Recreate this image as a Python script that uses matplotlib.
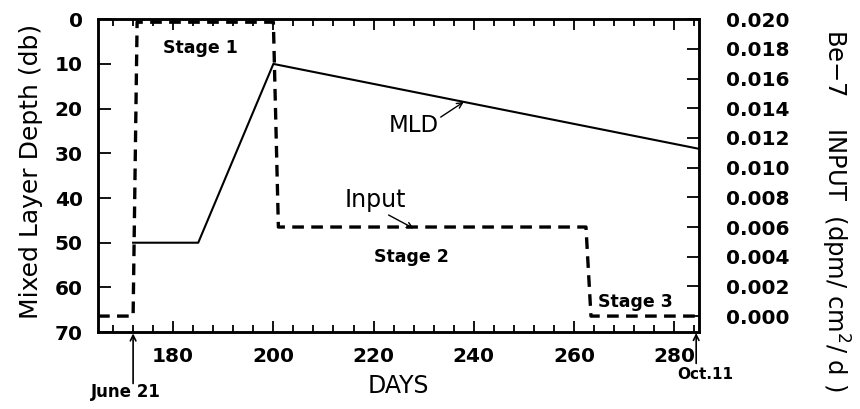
import matplotlib
matplotlib.use('Agg')
import matplotlib.pyplot as plt

# mixed layer depth (db) vs day
mld_days = [172, 185, 200, 285]
mld_depth = [50, 50, 10, 29]

# Be-7 input (dpm/cm2/d) vs day, step shape
input_days = [165, 172, 172.8, 200, 201, 262.4, 263.4, 285]
input_vals = [0.0, 0.0, 0.0198, 0.0198, 0.006, 0.006, 0.0, 0.0]

depth_ticks = [0, 10, 20, 30, 40, 50, 60, 70]
input_ticks = [0.000, 0.002, 0.004, 0.006, 0.008, 0.010, 0.012, 0.014, 0.016, 0.018, 0.020]
day_ticks = [180, 200, 220, 240, 260, 280]


def arrow(ax, tail, tip, lw=1.0):
    ax.annotate('', xy=tip, xytext=tail, annotation_clip=False,
                arrowprops=dict(arrowstyle='->', color='black', lw=lw,
                                shrinkA=0, shrinkB=0))


def main():
    fig = plt.figure(figsize=(8.6, 4.09), dpi=100)
    ax = fig.add_axes([0.114, 0.188, 0.699, 0.765])

    ax.plot(mld_days, mld_depth, color='black', lw=1.5)
    ax.set_xlim(165, 285)
    ax.set_ylim(70, 0)
    ax.set_yticks(depth_ticks)
    ax.set_xticks(day_ticks)
    ax.set_xticks(range(168, 285, 4), minor=True)
    ax.tick_params(axis='x', which='major', direction='in', length=8, width=1.3,
                   top=True, labelsize=14.5, pad=10.5)
    ax.tick_params(axis='x', which='minor', direction='in', length=5, width=1.3, top=True)
    ax.tick_params(axis='y', direction='in', length=9, width=1.3, labelsize=14.5, pad=11)
    for lab in ax.get_xticklabels() + ax.get_yticklabels():
        lab.set_fontweight('bold')
    for sp in ax.spines.values():
        sp.set_linewidth(1.8)
    ax.set_xlabel('DAYS', fontsize=17, labelpad=6)

    ax2 = ax.twinx()
    ax2.plot(input_days, input_vals, color='black', lw=2.4, ls=(0, (3.5, 2.2)))
    ax2.set_ylim(-0.00108, 0.020)
    ax2.set_yticks(input_ticks)
    ax2.set_yticklabels(['%.3f' % v for v in input_ticks])
    ax2.tick_params(axis='y', direction='in', length=9, width=1.3, labelsize=14.5, pad=19)
    for lab in ax2.get_yticklabels():
        lab.set_fontweight('bold')
    for sp in ax2.spines.values():
        sp.set_linewidth(1.8)

    # axis titles placed in figure coordinates
    fig.text(31 / 860, 1 - 171 / 409, 'Mixed Layer Depth (db)', fontsize=18,
             rotation=90, ha='center', va='center')
    fig.text(835 / 860, 1 - 210 / 409, 'Be\u22127    INPUT  (dpm/ cm$^2$/ d )',
             fontsize=17.5, rotation=270, ha='center', va='center')

    # stage labels
    ax.text(185.4, 6.5, 'Stage 1', fontsize=12.5, fontweight='bold', ha='center', va='center')
    ax.text(227.6, 53.2, 'Stage 2', fontsize=12.5, fontweight='bold', ha='center', va='center')
    ax.text(272.2, 63.3, 'Stage 3', fontsize=12.5, fontweight='bold', ha='center', va='center')

    ax.text(228, 23.7, 'MLD', fontsize=16.5, ha='center', va='center')
    arrow(ax, (233.4, 21.9), (238, 18.5))
    ax.text(220.3, 40.5, 'Input', fontsize=17, ha='center', va='center')
    arrow(ax, (223, 43.8), (228, 46.8))

    # date markers below the axis
    arrow(ax, (172, 81.5), (172, 70.3), lw=1.2)
    ax.text(170.5, 83.3, 'June 21', fontsize=12, fontweight='bold',
            ha='center', va='center', clip_on=False)
    arrow(ax, (284.4, 77.0), (284.4, 70.2), lw=1.2)
    ax.text(286.2, 79.4, 'Oct.11', fontsize=11, fontweight='bold',
            ha='center', va='center', clip_on=False)

    fig.savefig('out.png', dpi=100)


if __name__ == '__main__':
    main()
